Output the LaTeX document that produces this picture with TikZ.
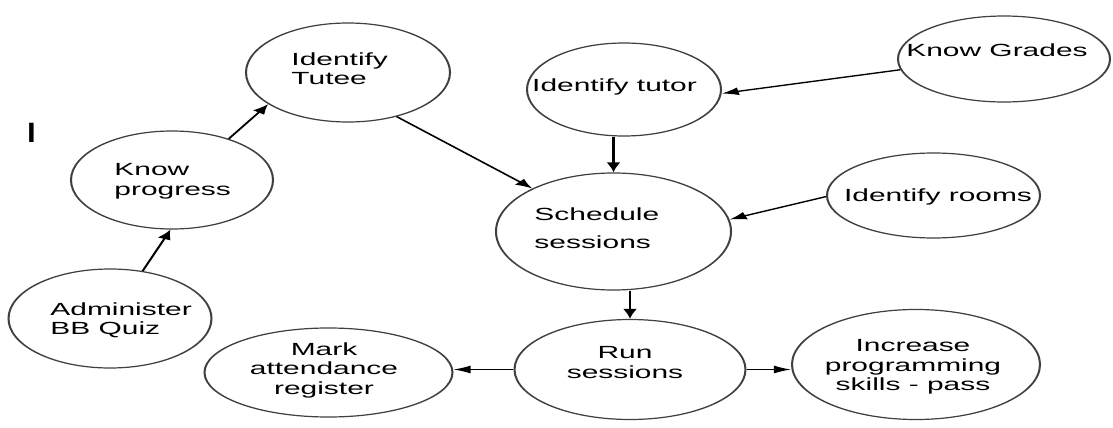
\documentclass[tikz,border=0pt]{standalone}
\usepackage{fontspec}
\setmainfont{Liberation Sans}
\usetikzlibrary{arrows.meta,shapes.geometric}
\begin{document}
\begin{tikzpicture}[x=0.75pt,y=-0.75pt]
\path[fill=white, use as bounding box] (0,0) rectangle (1113,428);
% everything is drawn on a canvas stretched 1.7 times sideways;
% coordinates below are still given in final pixel units
\begin{scope}[x=0.441176pt, y=-0.75pt, transform canvas={xscale=1.7},
  bubble/.style 2 args={ellipse, draw=black!75, line width=0.9pt, inner sep=0pt,
    minimum width=#1*0.882353pt, minimum height=#2*1.5pt},
  lbl/.style={font=\fontsize{13.2pt}{14.6pt}\selectfont, inner sep=0pt, text=black},
  flow/.style={-{Latex[length=7.5pt,width=6pt]}, line width=1pt, black}]

% ellipses (centre, half axes in pixels)
\node[bubble={102}{49.5}] (tutee) at (348,72.5) {};
\node[bubble={101}{49}] (prog) at (172,180) {};
\node[bubble={101.5}{49.5}] (admin) at (110,318.5) {};
\node[bubble={97}{46.5}] (tutor) at (624,89.5) {};
\node[bubble={106}{43}] (grades) at (1004,59) {};
\node[bubble={117.5}{58.5}] (sched) at (613.5,231.5) {};
\node[bubble={106.5}{42.5}] (rooms) at (933.5,195.5) {};
\node[bubble={115.5}{50}] (run) at (630,369.5) {};
\node[bubble={124}{44.5}] (mark) at (328.5,372.5) {};
\node[bubble={124}{55}] (incr) at (916,364.5) {};

% texts
\node[font=\fontsize{21pt}{21pt}\selectfont, inner sep=0pt] (stray) at (31.5,133) {I};
\node[lbl, align=left, anchor=north west] (tuteeT) at (291,52.3) {Identify\\Tutee};
\node[lbl, align=left, anchor=north west] (progT) at (114,163.5) {Know\\progress};
\node[lbl, align=left, anchor=north west] (adminT) at (50,302.3) {Administer\\BB Quiz};
\node[lbl, anchor=base] (tutorT) at (614.5,92) {Identify tutor};
\node[lbl, anchor=base] (gradesT) at (997,57) {Know Grades};
\node[lbl, font=\fontsize{13.2pt}{21pt}\selectfont, align=left, anchor=north west] (schedT) at (534,207.3) {Schedule\\sessions};
\node[lbl, anchor=base] (roomsT) at (938,201) {Identify rooms};
\node[lbl, align=center, anchor=north] (runT) at (625,346.5) {Run\\sessions};
\node[lbl, align=center, anchor=north] (markT) at (324,342.5) {Mark\\attendance\\register};
\node[lbl, align=center, anchor=north] (incrT) at (913,339.5) {Increase\\programming\\skills - pass};

% connectors
\draw[flow] (prog.51.6) -- (tutee.214);
\draw[flow] (admin.68.2) -- (prog.269);
\draw[flow] (tutee.-57) -- (sched.138.2);
\draw[flow] (grades.190) -- (tutor.-4.4);
\draw[flow] (tutor.south -| sched.north) -- (sched.north);
\draw[flow] (rooms.181.4) -- (sched.10.4);
\draw[flow] (sched.south -| run.north) -- (run.north);
\draw[flow] (run.west) -- (run.west -| mark.east);
\draw[flow] (run.east) -- (run.east -| incr.west);
\end{scope}
\end{tikzpicture}
\end{document}
